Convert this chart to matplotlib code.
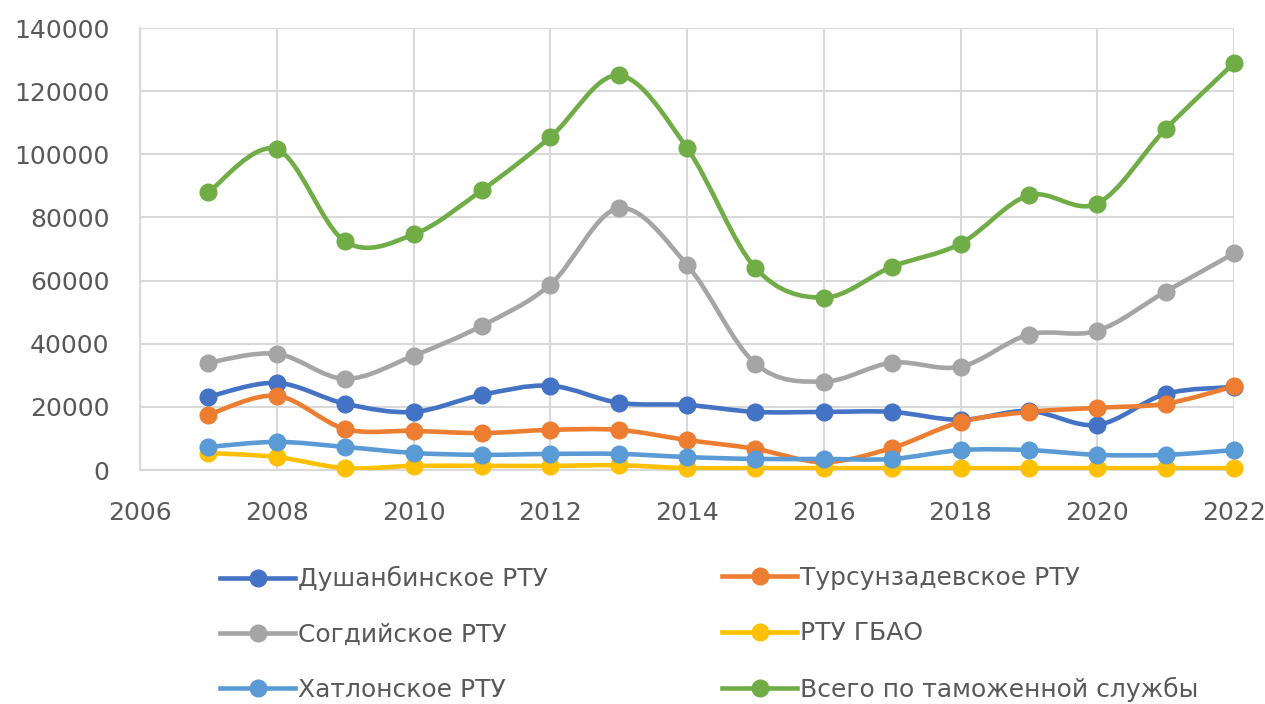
import numpy as np
import matplotlib
matplotlib.use("Agg")
import matplotlib.pyplot as plt
from matplotlib.path import Path
from matplotlib.patches import PathPatch
from matplotlib.lines import Line2D

# Data
years = [2007, 2008, 2009, 2010, 2011, 2012, 2013, 2014,
         2015, 2016, 2017, 2018, 2019, 2020, 2021, 2022]
dushanbe = [23200, 27600, 21000, 18400, 23800, 26700, 21300, 20600,
            18400, 18400, 18400, 15900, 18700, 14300, 24100, 26300]
tursunzade = [17500, 23500, 13000, 12400, 11700, 12700, 12700, 9500,
              6700, 2500, 7000, 15200, 18400, 19700, 21000, 26500]
sogd = [34000, 36800, 28900, 36200, 45700, 58700, 82900, 65000,
        33700, 28000, 34000, 32700, 42900, 44100, 56500, 68600]
gbao = [5400, 4100, 600, 1300, 1300, 1300, 1500, 600,
        600, 600, 600, 600, 600, 600, 600, 600]
khatlon = [7300, 8900, 7300, 5400, 4800, 5100, 5100, 4100,
           3500, 3500, 3500, 6300, 6300, 4800, 4800, 6300]
total = [88000, 101600, 72400, 74600, 88600, 105400, 125000, 102000,
         64000, 54600, 64400, 71700, 87000, 84400, 108000, 128900]

names = ["Душанбинское РТУ", "Турсунзадевское РТУ", "Согдийское РТУ",
         "РТУ ГБАО", "Хатлонское РТУ", "Всего по таможенной службы"]
series = [dushanbe, tursunzade, sogd, gbao, khatlon, total]
colors = ["#4472c4", "#ed7d31", "#a5a5a5", "#ffc000", "#5b9bd5", "#70ad47"]

x_ticks = list(range(2006, 2023, 2))
y_ticks = list(range(0, 140001, 20000))

TEXT = "#595959"
GRID = "#d9d9d9"


def smooth_path(x, y):
    '''Bezier path through the points, like Excel smoothed lines.'''
    p = np.column_stack([x, y]).astype(float)
    ext = np.vstack([p[0], p, p[-1]])
    verts = [p[0]]
    codes = [Path.MOVETO]
    for i in range(len(p) - 1):
        p0, p1, p2, p3 = ext[i], ext[i + 1], ext[i + 2], ext[i + 3]
        verts += [p1 + (p2 - p0) / 6, p2 - (p3 - p1) / 6, p2]
        codes += [Path.CURVE4] * 3
    return Path(verts, codes)


fig = plt.figure(figsize=(12.65, 7.04), dpi=100)
ax = fig.add_axes([140 / 1265, 1 - 470 / 704, 1094 / 1265, 442 / 704])

handles = []
for vals, name, col in zip(series, names, colors):
    ax.add_patch(PathPatch(smooth_path(years, vals), fill=False,
                           edgecolor=col, lw=3.3, capstyle="round",
                           joinstyle="round", zorder=3))
    ax.plot(years, vals, "o", color=col, ms=12, zorder=4, clip_on=False)
    handles.append(Line2D([], [], color=col, lw=3.3, marker="o", ms=12))

ax.set_xlim(2006, 2022)
ax.set_ylim(0, 140000)
ax.set_xticks(x_ticks)
ax.set_yticks(y_ticks)
ax.grid(True, color=GRID, lw=1.5)
ax.set_axisbelow(True)
for side in ["top", "right"]:
    ax.spines[side].set_visible(False)
for side in ["left", "bottom"]:
    ax.spines[side].set_color(GRID)
    ax.spines[side].set_linewidth(1.5)
ax.tick_params(length=0, labelsize=18, colors=TEXT)
ax.tick_params(axis="y", pad=22)
ax.tick_params(axis="x", pad=22)

# two legend columns placed separately
legend_cols = [[0, 2, 4], [1, 3, 5]]
for xpos, idx in zip([220, 722], legend_cols):
    leg = fig.legend([handles[i] for i in idx], [names[i] for i in idx],
                     loc="center left", bbox_to_anchor=(xpos / 1265, 1 - 634 / 704),
                     frameon=False, fontsize=18, labelcolor=TEXT,
                     handlelength=3.0, handletextpad=0.1, labelspacing=1.25,
                     borderpad=0, borderaxespad=0)

fig.savefig("out.png", dpi=100)
